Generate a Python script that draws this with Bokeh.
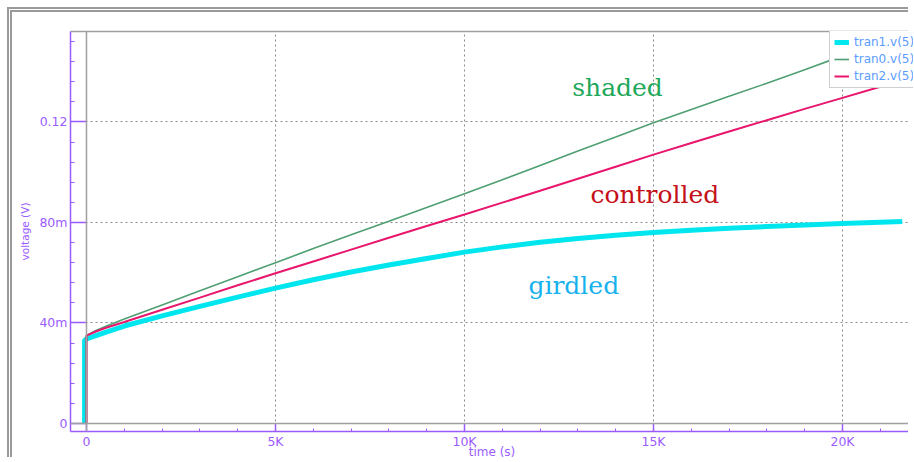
from bokeh.plotting import figure
from bokeh.models import (FixedTicker, Span, Legend, LegendItem, LinearAxis,
                          Range1d, ColumnDataSource)
from bokeh.core.properties import value
from bokeh.embed import file_html
from bokeh.resources import INLINE

# ---------------- data ----------------
# tran1.v(5)  -> "girdled" (cyan, thick)
tran1_x = [-50, -50, 0, 250, 500, 1000, 2000, 3000, 4000, 5000, 6000, 7000, 8000, 9000, 10000,
           11000, 12000, 13000, 14000, 15000, 16000, 17000, 18000, 19000, 20000, 21000, 21580]
tran1_y = [0.0, 0.0330, 0.0337, 0.0350, 0.0363, 0.0388, 0.0428, 0.0466, 0.0503, 0.0539, 0.0572,
           0.0603, 0.0631, 0.0657, 0.0682, 0.0703, 0.0721, 0.0736, 0.0749, 0.0760, 0.0769,
           0.0777, 0.0784, 0.0790, 0.0796, 0.0801, 0.0804]
# tran0.v(5)  -> "shaded" (green)
tran0_x = [0, 0, 250, 500, 1000, 2000, 3000, 4000, 5000, 6000, 7000, 8000, 9000, 10000, 11000,
           12000, 13000, 14000, 15000, 16000, 17000, 18000, 19000, 20000, 21000, 21800]
tran0_y = [0.0, 0.0350, 0.0370, 0.0386, 0.0416, 0.0472, 0.0528, 0.0584, 0.0640, 0.0696, 0.0751,
           0.0805, 0.0860, 0.0914, 0.0970, 0.1027, 0.1084, 0.1140, 0.1197, 0.1250, 0.1302,
           0.1354, 0.1408, 0.1463, 0.1518, 0.1562]
# tran2.v(5)  -> "controlled" (red)
tran2_x = [0, 0, 250, 500, 1000, 2000, 3000, 4000, 5000, 6000, 7000, 8000, 9000, 10000, 11000,
           12000, 13000, 14000, 15000, 16000, 17000, 18000, 19000, 20000, 21000, 21800]
tran2_y = [0.0, 0.0350, 0.0366, 0.0380, 0.0404, 0.0453, 0.0501, 0.0550, 0.0598, 0.0645, 0.0692,
           0.0739, 0.0786, 0.0832, 0.0879, 0.0926, 0.0974, 0.1022, 0.1070, 0.1116, 0.1162,
           0.1207, 0.1252, 0.1296, 0.1340, 0.1373]

series_names = ["tran1.v(5)", "tran0.v(5)", "tran2.v(5)"]

x_ticks = [0, 5000, 10000, 15000, 20000]
x_tick_labels = ["0", "5K", "10K", "15K", "20K"]
y_ticks = [0.0, 0.04, 0.08, 0.12]
y_tick_labels = ["0", "40m", "80m", "0.12"]

ann_text = ["shaded", "controlled", "girdled"]
ann_x = [12850, 13330, 11690]
ann_y = [0.1337, 0.0913, 0.0549]
ann_color = ["#1fa85a", "#c41018", "#17b2ee"]

# ---------------- styling ----------------
PURPLE = "#9b5cff"
GRAY = "#a0a0a0"

p = figure(width=901, height=450, output_backend="svg", toolbar_location=None,
           x_range=Range1d(-423, 21878), y_range=Range1d(-0.00318, 0.156),
           min_border_left=58, min_border_top=19, min_border_right=0, min_border_bottom=31,
           background_fill_color="white", border_fill_color="white")
p.styles = {"margin-left": "7px", "margin-top": "7px",
            "border-left": "5px double #9a9a9a", "border-top": "5px double #9a9a9a"}
p.outline_line_color = None

# x axis
xa = p.xaxis[0]
xa.ticker = FixedTicker(ticks=x_ticks, minor_ticks=list(range(0, 22000, 1000)))
xa.major_label_overrides = dict(zip(x_ticks, x_tick_labels))
for ax in (xa, p.yaxis[0]):
    ax.axis_line_color = PURPLE
    ax.axis_line_width = 1.5
    ax.major_tick_line_color = PURPLE
    ax.minor_tick_line_color = PURPLE
    ax.major_tick_line_width = 1.5
    ax.minor_tick_line_width = 1
    ax.major_tick_out = 0
    ax.minor_tick_out = 0
    ax.major_label_text_color = PURPLE
    ax.major_label_text_font = "DejaVu Sans"
    ax.major_label_text_font_size = "12.5px"
    ax.axis_label_text_color = PURPLE
    ax.axis_label_text_font = "DejaVu Sans"
    ax.axis_label_text_font_style = "normal"
xa.major_tick_in = 8
xa.minor_tick_in = 3
xa.major_label_standoff = 2
xa.axis_label = "time (s)"
xa.axis_label_text_font_size = "12px"
xa.axis_label_standoff = -7

ya = p.yaxis[0]
ya.ticker = FixedTicker(ticks=y_ticks, minor_ticks=[i * 0.008 for i in range(20)])
ya.major_label_overrides = dict(zip(y_ticks, y_tick_labels))
ya.major_tick_in = 16
ya.minor_tick_in = 4
ya.major_label_standoff = 3
ya.axis_label = "voltage (V)"
ya.axis_label_text_font_size = "10.5px"
ya.axis_label_standoff = 5

# top line of the frame
top = LinearAxis(ticker=FixedTicker(ticks=[]), axis_line_color=GRAY, axis_line_width=1.5,
                 major_tick_line_color=None, minor_tick_line_color=None,
                 major_label_text_font_size="0px")
p.add_layout(top, "above")

# grids
p.xgrid.ticker = FixedTicker(ticks=x_ticks[1:])
p.ygrid.ticker = FixedTicker(ticks=y_ticks[1:])
for g in (p.xgrid[0], p.ygrid[0]):
    g.grid_line_color = "#8a8a8a"
    g.grid_line_dash = "2 3"
    g.grid_line_width = 1

p.add_layout(Span(location=0, dimension="height", line_color=GRAY, line_width=1.5))
p.add_layout(Span(location=0, dimension="width", line_color=GRAY, line_width=1.5))

# series
r1 = p.line(tran1_x, tran1_y, line_color="#00e6ee", line_width=5, line_join="round")
r0 = p.line(tran0_x, tran0_y, line_color="#4f9f73", line_width=1.6)
r2 = p.line(tran2_x, tran2_y, line_color="#e8166c", line_width=2)

# annotations
src = ColumnDataSource(dict(x=ann_x, y=ann_y, text=ann_text, color=ann_color))
p.text(x="x", y="y", text="text", text_color="color", source=src,
       text_font=value("DejaVu Serif"), text_font_size="25px",
       text_baseline="alphabetic", text_align="left")

legend = Legend(items=[LegendItem(label=series_names[0], renderers=[r1]),
                       LegendItem(label=series_names[1], renderers=[r0]),
                       LegendItem(label=series_names[2], renderers=[r2])],
                location=(759, 343), orientation="vertical", padding=4, spacing=3, margin=0,
                glyph_width=15, glyph_height=14, label_height=14, label_standoff=5,
                label_text_font="DejaVu Sans", label_text_font_size="12px",
                label_text_color="#5b9cff", border_line_color=GRAY, border_line_width=1,
                background_fill_color="white", background_fill_alpha=1)
p.add_layout(legend)

open("out.html", "w").write(file_html(p, INLINE))
